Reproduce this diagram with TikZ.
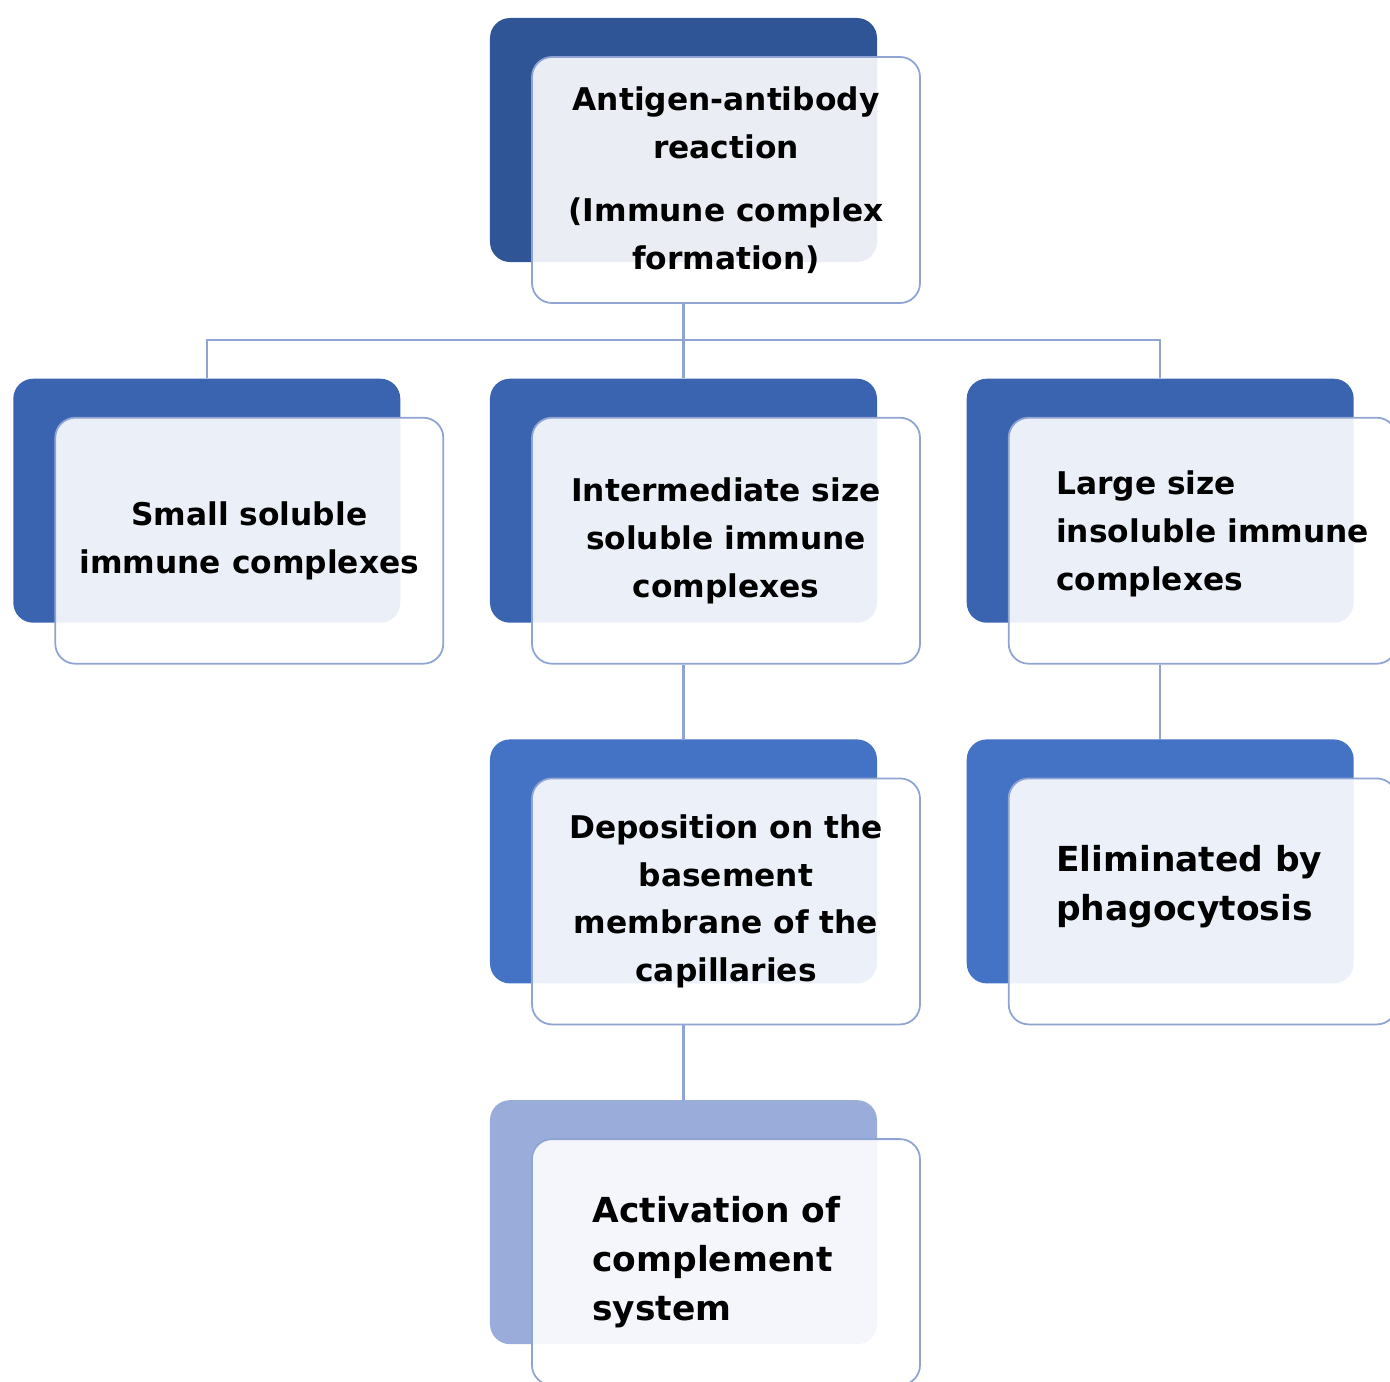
\documentclass[tikz,border=0pt]{standalone}
\usepackage{fontspec}
\setmainfont{DejaVu Sans}
\usetikzlibrary{positioning}
\definecolor{navyA}{HTML}{2F5597}
\definecolor{navyB}{HTML}{3A63B0}
\definecolor{navyC}{HTML}{4472C4}
\definecolor{navyD}{HTML}{9AACD9}
\definecolor{edgeblue}{HTML}{8FA4D2}

\begin{document}
\begin{tikzpicture}[
        node distance=2.32cm and 1.78cm,
        font=\fontsize{17.8}{27.2}\selectfont\bfseries,
        back/.style={rectangle, rounded corners=0.4cm, minimum width=7.74cm, minimum height=4.88cm, inner sep=0pt},
        front/.style={draw=edgeblue, line width=1pt, fill=white, fill opacity=0.9, text opacity=1, rectangle, rounded corners=0.4cm, minimum width=7.76cm, minimum height=4.92cm, align=center, xshift=0.85cm, yshift=-0.8cm},
        note/.style={align=left, inner sep=0pt, anchor=west},
        bignote/.style={note, font=\fontsize{19.6}{27.8}\selectfont\bfseries},
        link/.style={draw=edgeblue, line width=1.2pt}
    ]
    \useasboundingbox (-13.67,2.80) rectangle (14.13,-24.82);

    \node[back, fill=navyA] (Ag) at (0,0) {};
    \node[back, fill=navyB, below=of Ag] (Inter) {};
    \node[back, fill=navyB, left=of Inter] (Small) {};
    \node[back, fill=navyB, right=of Inter] (Large) {};
    \node[back, fill=navyC, below=of Inter] (Depo) {};
    \node[back, fill=navyC, below=of Large] (Elim) {};
    \node[back, fill=navyD, below=of Depo] (Actv) {};

    \node[front] (AgF) at (Ag.center) {Antigen-antibody\\reaction\\[0.3cm](Immune complex\\formation)};
    \node[front] (SmallF) at (Small.center) {Small soluble\\immune complexes};
    \node[front] (InterF) at (Inter.center) {Intermediate size\\soluble immune\\complexes};
    \node[front] (LargeF) at (Large.center) {};
    \node[note] (LargeT) at ([xshift=0.96cm, yshift=0.14cm]LargeF.west) {Large size\\insoluble immune\\complexes};
    \node[front] (DepoF) at (Depo.center) {Deposition on the\\basement\\membrane of the\\capillaries};
    \node[front] (ElimF) at (Elim.center) {};
    \node[bignote] (ElimT) at ([xshift=0.96cm, yshift=0.29cm]ElimF.west) {Eliminated by\\phagocytosis};
    \node[front] (ActvF) at (Actv.center) {};
    \node[bignote] (ActvT) at ([xshift=1.22cm]ActvF.west) {Activation of\\complement\\system};

    \draw[link] (AgF.south -| Ag) -- (Inter.north);
    \draw[link] (Small.north) -- ++(0,0.76) -| (Large.north);
    \draw[link] (InterF.south -| Inter) -- (Depo.north);
    \draw[link] (LargeF.south -| Large) -- (Elim.north);
    \draw[link] (DepoF.south -| Depo) -- (Actv.north);

\end{tikzpicture}
\end{document}
